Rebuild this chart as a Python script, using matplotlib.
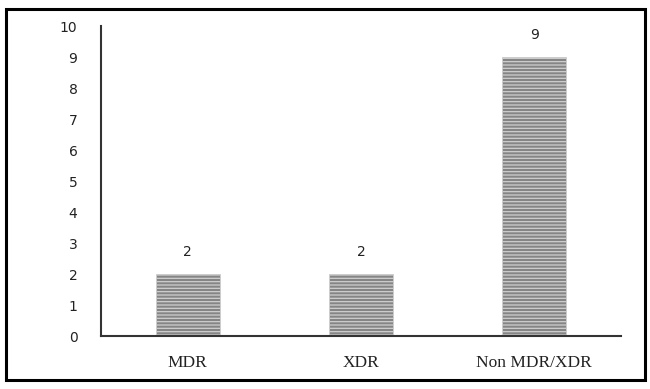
import matplotlib.pyplot as plt
from matplotlib.patches import Rectangle

categories = ['MDR', 'XDR', 'Non MDR/XDR']
counts = [2, 2, 9]
yticks = list(range(0, 11))

plt.rcParams['hatch.linewidth'] = 0.9
plt.rcParams['hatch.color'] = '#e2e2e2'

fig = plt.figure(figsize=(6.5, 3.89), dpi=100)
ax = fig.add_axes([0.1554, 0.1362, 0.7996, 0.7968])

x = range(len(categories))
bars = ax.bar(x, counts, width=0.37, color='#858585', edgecolor='#cfcfcf',
              linewidth=0.6, hatch='-----', zorder=2)

for b, v in zip(bars, counts):
    ax.text(b.get_x() + b.get_width() / 2, v + 0.48, str(v),
            ha='center', va='bottom', fontsize=10, color='#222222',
            family='DejaVu Sans')

ax.set_xlim(-0.5, len(categories) - 0.5)
ax.set_ylim(0, 10)
ax.set_yticks(yticks)
ax.set_yticklabels([str(t) for t in yticks], fontsize=10, color='#222222')
ax.set_xticks(list(x))
ax.set_xticklabels(categories, family='Liberation Serif', fontsize=12.5,
                   color='#222222')
ax.tick_params(axis='y', length=0, pad=17)
ax.tick_params(axis='x', length=0, pad=14)

for side in ('top', 'right'):
    ax.spines[side].set_visible(False)
for side in ('left', 'bottom'):
    ax.spines[side].set_color('#333333')
    ax.spines[side].set_linewidth(1.5)

# black frame round the whole figure
fig.patches.append(Rectangle((0.009, 0.023), 0.983, 0.955,
                             transform=fig.transFigure, fill=False,
                             edgecolor='black', linewidth=2.2))

fig.savefig('out.png', dpi=100)
